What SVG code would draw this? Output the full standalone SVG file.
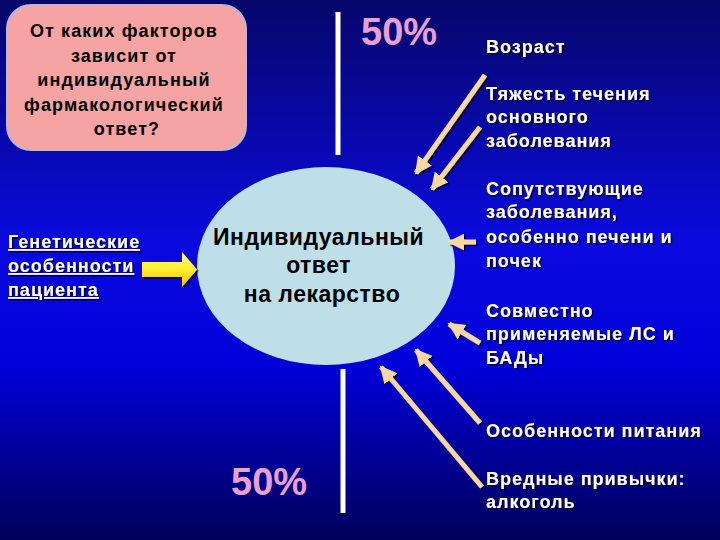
<svg xmlns="http://www.w3.org/2000/svg" width="720" height="540" viewBox="0 0 720 540">
<defs>
<linearGradient id="bg" x1="0" y1="0" x2="0" y2="1">
<stop offset="0" stop-color="#06066a"/>
<stop offset="0.45" stop-color="#0a0ae0"/>
<stop offset="0.68" stop-color="#0000d8"/>
<stop offset="1" stop-color="#00005a"/>
</linearGradient>
<linearGradient id="yel" x1="0" y1="0" x2="0" y2="1">
<stop offset="0" stop-color="#ffff80"/>
<stop offset="0.5" stop-color="#ffee30"/>
<stop offset="1" stop-color="#e8c000"/>
</linearGradient>
<filter id="sh" x="-10%" y="-10%" width="130%" height="140%">
<feDropShadow dx="1.5" dy="1.5" stdDeviation="0.6" flood-color="#000020" flood-opacity="0.9"/>
</filter>
<marker id="ah" viewBox="0 0 10 10" refX="9" refY="5" markerWidth="3.4" markerHeight="3.4" orient="auto" markerUnits="strokeWidth">
<path d="M0,0 L10,5 L0,10 z" fill="#f8d8a0"/>
</marker>
</defs>
<style>
.t{font-family:"Liberation Sans",Arial,sans-serif;font-weight:bold;}
.w{fill:#ffffff;font-size:18px;letter-spacing:1px;}
.pct{fill:#e8a0d0;font-size:38px;font-family:"Liberation Sans",Arial,sans-serif;font-weight:bold;}
.ln{stroke:#f8d8a0;stroke-width:5;fill:none;marker-end:url(#ah);}
.vl{stroke:#ffffff;stroke-width:5;}
</style>
<rect x="0" y="0" width="720" height="540" fill="url(#bg)"/>

<g id="question">
<rect x="7" y="5" width="239" height="145" rx="24" fill="#f5a3a3" stroke="#b8b8d8" stroke-width="2"/>
<text class="t" text-anchor="middle" font-size="18" letter-spacing="1.1" fill="#000">
<tspan x="127" y="37">От каких факторов</tspan>
<tspan x="127" y="61.5">зависит от</tspan>
<tspan x="127" y="86">индивидуальный</tspan>
<tspan x="127" y="110.5">фармакологический</tspan>
<tspan x="127" y="135">ответ?</tspan>
</text>
</g>

<g id="dividers">
<line class="vl" x1="338" y1="12" x2="338" y2="155"/>
<line class="vl" x1="343" y1="369" x2="343" y2="513"/>
</g>

<g id="pct-top"><text class="pct" x="361" y="45">50%</text></g>
<g id="pct-bottom"><text class="pct" x="231" y="495">50%</text></g>

<g id="response">
<ellipse cx="326" cy="266" rx="129" ry="99" fill="#bfdfe8"/>
<text font-family="Liberation Sans,Arial,sans-serif" font-size="23" letter-spacing="0.5" fill="#000" text-anchor="middle" font-weight="bold">
<tspan x="322" y="245">Индивидуальный</tspan>
<tspan x="322" y="273">ответ</tspan>
<tspan x="322" y="302">на лекарство</tspan>
</text>
</g>

<g id="genetic" filter="url(#sh)">
<text class="t w" text-decoration="underline" letter-spacing="1.3"><tspan x="8" y="248">Генетические</tspan><tspan x="8" y="272">особенности</tspan><tspan x="8" y="296">пациента</tspan></text>
</g>

<g id="factors" filter="url(#sh)">
<text class="t w">
<tspan x="486" y="53">Возраст</tspan>
<tspan x="486" y="100">Тяжесть течения</tspan>
<tspan x="486" y="123">основного</tspan>
<tspan x="486" y="147">заболевания</tspan>
<tspan x="486" y="195">Сопутствующие</tspan>
<tspan x="486" y="218">заболевания,</tspan>
<tspan x="486" y="243">особенно печени и</tspan>
<tspan x="486" y="267">почек</tspan>
<tspan x="486" y="317">Совместно</tspan>
<tspan x="486" y="340">применяемые ЛС и</tspan>
<tspan x="486" y="364">БАДы</tspan>
<tspan x="486" y="437">Особенности питания</tspan>
<tspan x="486" y="485">Вредные привычки:</tspan>
<tspan x="486" y="508">алкоголь</tspan>
</text>
</g>

<g id="connectors">
<path d="M142,262 H182 V252 L197,269.5 L182,287 V277 H142 Z" fill="url(#yel)" filter="url(#sh)"/>
<g filter="url(#sh)">
<line class="ln" x1="485" y1="75" x2="416" y2="173"/>
<line class="ln" x1="480" y1="127" x2="432" y2="189"/>
<line class="ln" x1="476" y1="242" x2="449" y2="242"/>
<line class="ln" x1="480" y1="343" x2="449" y2="324"/>
<line class="ln" x1="480" y1="423" x2="416" y2="350"/>
<line class="ln" x1="482" y1="487" x2="381" y2="367"/>
</g>
</g>
</svg>
